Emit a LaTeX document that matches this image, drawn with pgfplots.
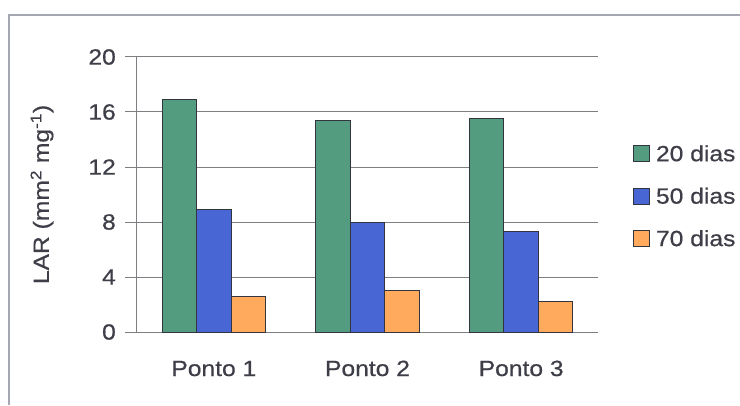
\documentclass[border=0pt]{standalone}
\usepackage{pgfplots}
\pgfplotsset{compat=1.18}
\usepackage{fontspec}
\setmainfont[FakeStretch=1.12, FakeBold=0.6]{Liberation Sans}

\definecolor{dias20}{RGB}{84,156,128}
\definecolor{dias50}{RGB}{72,102,212}
\definecolor{dias70}{RGB}{255,170,92}
\definecolor{barline}{RGB}{50,52,62}
\definecolor{txt}{RGB}{62,62,72}
\definecolor{gridc}{RGB}{125,125,130}
\definecolor{framec}{RGB}{165,168,178}

\newcommand{\lab}{\fontsize{22}{26}\selectfont\color{txt}}
\newcommand{\swatch}[1]{\draw[fill=#1, draw=barline, line width=1pt] (0pt,-8pt) rectangle (16pt,8pt); \path (22pt,0pt);}

\begin{document}
\begin{tikzpicture}[x=1pt,y=1pt]
\useasboundingbox (0,0) rectangle (740,405);
% outer chart frame (top and left edges)
\draw[framec, line width=1.4pt] (9,0) -- (9,390) -- (740,390);

\begin{axis}[
  at={(137pt,73pt)}, anchor=south west,
  scale only axis, width=461pt, height=275pt,
  ybar=0pt, bar width=34.5pt,
  xmin=0, xmax=3, ymin=0, ymax=20,
  axis x line*=bottom, axis y line*=left,
  axis line style={gridc, line width=1pt, -},
  xtick={0.5,1.5,2.5},
  xticklabels={Ponto 1,Ponto 2,Ponto 3},
  major x tick style={draw=none},
  extra x ticks={0,1,2,3},
  extra x tick labels={},
  extra x tick style={grid=none, tick align=outside, major tick length=8pt,
    major tick style={gridc, line width=1pt}},
  ytick={0,4,...,20},
  ymajorgrids,
  grid style={gridc, line width=1pt},
  y tick style={gridc, line width=1pt},
  tick align=outside, major tick length=12pt,
  /pgf/number format/assume math mode=true,
  xticklabel style={font=\lab, anchor=base, inner sep=0pt, yshift=-32pt},
  yticklabel style={font=\lab, anchor=east, inner sep=0pt, xshift=-9pt},
  ylabel={LAR (mm\textsuperscript{2} mg\textsuperscript{-1})},
  ylabel style={font=\lab, at={(axis description cs:-0.206,0.5)}, anchor=center, rotate=0},
  legend style={at={(1.069,0.493)}, anchor=west, draw=none, fill=none,
    font=\lab, row sep=25pt, nodes={inner sep=0pt, anchor=west},
    legend cell align=left},
]
\addplot[fill=dias20, draw=barline, line width=1pt,
  legend image code/.code={\swatch{dias20}}]
  coordinates {(0.5,16.9) (1.5,15.4) (2.5,15.5)};
\addplot[fill=dias50, draw=barline, line width=1pt,
  legend image code/.code={\swatch{dias50}}]
  coordinates {(0.5,8.9) (1.5,8.0) (2.5,7.3)};
\addplot[fill=dias70, draw=barline, line width=1pt,
  legend image code/.code={\swatch{dias70}}]
  coordinates {(0.5,2.6) (1.5,3.0) (2.5,2.2)};
\legend{20 dias,50 dias,70 dias}
\end{axis}
\end{tikzpicture}
\end{document}
